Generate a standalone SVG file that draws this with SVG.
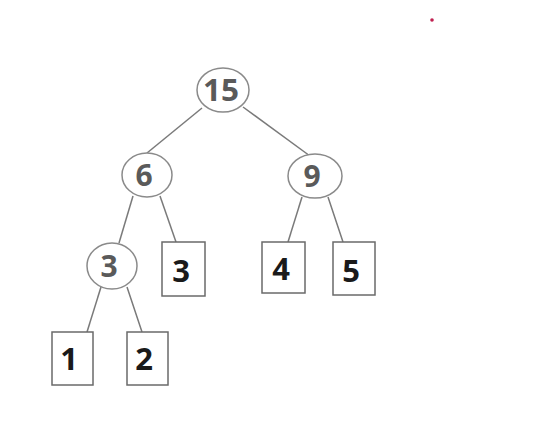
<svg xmlns="http://www.w3.org/2000/svg" width="534" height="446" viewBox="0 0 534 446">
  <style>
    .edge { stroke: #7a7a7a; stroke-width: 1.5; fill: none; }
    .inner { fill: #ffffff; stroke: #8a8a8a; stroke-width: 1.5; }
    .leaf { fill: #ffffff; stroke: #6a6a6a; stroke-width: 1.5; }
    .ilabel { font-family: "Open Sans", "Liberation Sans", sans-serif; font-weight: bold; font-size: 30px; fill: #5a5a5a; text-anchor: middle; }
    .llabel { font-family: "Open Sans", "Liberation Sans", sans-serif; font-weight: bold; font-size: 31px; fill: #1a1a1a; text-anchor: middle; }
  </style>
  <rect width="534" height="446" fill="#ffffff"/>
  <g id="connectors">
    <line class="edge" x1="202" y1="108" x2="147" y2="153"/>
    <line class="edge" x1="243" y1="107" x2="310" y2="156"/>
    <line class="edge" x1="133" y1="196" x2="119" y2="243"/>
    <line class="edge" x1="160" y1="196" x2="176" y2="242"/>
    <line class="edge" x1="302" y1="197" x2="288" y2="242"/>
    <line class="edge" x1="328" y1="197" x2="343" y2="242"/>
    <line class="edge" x1="101" y1="287" x2="87" y2="332"/>
    <line class="edge" x1="127" y1="287" x2="142" y2="332"/>
  </g>
  <g id="n15">
    <ellipse class="inner" cx="223" cy="90" rx="26" ry="22"/>
    <text class="ilabel" x="221" y="101" textLength="36" lengthAdjust="spacingAndGlyphs">15</text>
  </g>
  <g id="n6">
    <ellipse class="inner" cx="147" cy="175" rx="25" ry="22"/>
    <text class="ilabel" x="144" y="186">6</text>
  </g>
  <g id="n9">
    <ellipse class="inner" cx="315" cy="176" rx="27" ry="22"/>
    <text class="ilabel" x="312" y="187">9</text>
  </g>
  <g id="n3i">
    <ellipse class="inner" cx="112" cy="266" rx="25" ry="23"/>
    <text class="ilabel" x="109" y="277">3</text>
  </g>
  <g id="leaf3">
    <rect class="leaf" x="162" y="242" width="43" height="54"/>
    <text class="llabel" x="181" y="282">3</text>
  </g>
  <g id="leaf4">
    <rect class="leaf" x="262" y="242" width="43" height="51"/>
    <text class="llabel" x="281" y="280">4</text>
  </g>
  <g id="leaf5">
    <rect class="leaf" x="333" y="242" width="42" height="53"/>
    <text class="llabel" x="351" y="282">5</text>
  </g>
  <g id="leaf1">
    <rect class="leaf" x="52" y="332" width="41" height="53"/>
    <text class="llabel" x="69" y="370">1</text>
  </g>
  <g id="leaf2">
    <rect class="leaf" x="127" y="332" width="41" height="53"/>
    <text class="llabel" x="144" y="370">2</text>
  </g>
  <circle cx="432" cy="20" r="1.8" fill="#c02050"/>
</svg>
